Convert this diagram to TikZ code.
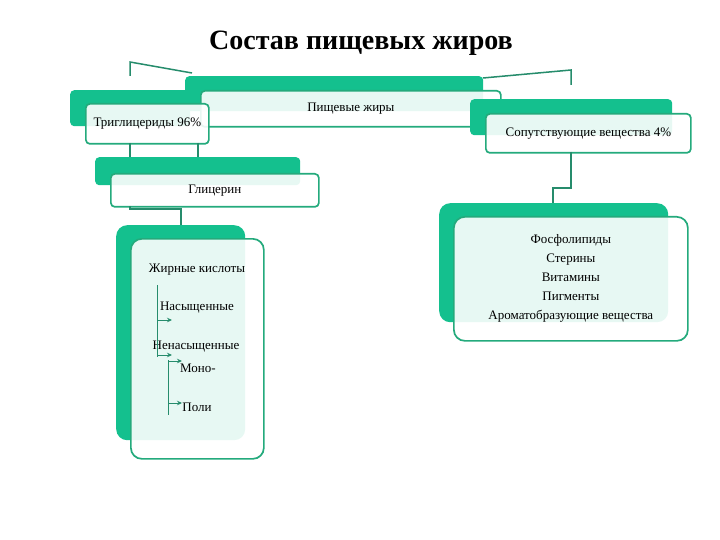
\documentclass[tikz,border=0pt]{standalone}
\usepackage{fontspec}
\setmainfont{Liberation Serif}
\usetikzlibrary{arrows.meta}
\definecolor{tealback}{RGB}{20,192,142}
\definecolor{tealbord}{RGB}{36,170,124}
\definecolor{tealconn}{RGB}{38,140,108}
\tikzset{
  backbox/.style={fill=tealback, draw=none, rounded corners=4pt, anchor=north west, inner sep=0pt},
  frontbox/.style={fill=white, fill opacity=0.9, text opacity=1, draw=tealbord, line width=1.7pt,
    rounded corners=4pt, anchor=north west, inner sep=0pt, align=center, font=\fontsize{13}{19}\selectfont},
  conn/.style={draw=tealconn, line width=1.5pt},
  tree/.style={draw=tealconn, line width=1pt},
  treearr/.style={draw=tealconn, line width=1pt, -{Stealth[length=5pt,width=4.5pt]}},
  lbl/.style={inner sep=0pt, font=\fontsize{13}{15}\selectfont},
}
\begin{document}
\begin{tikzpicture}[x=1pt,y=-1pt]
\useasboundingbox (0,0) rectangle (720,540);
% title
\node[font=\fontsize{28}{30}\selectfont\bfseries] (title) at (361,43) {Состав пищевых жиров};
% connectors from the top
\coordinate (l1) at (192,73);
\coordinate (l2) at (130,62);
\coordinate (l3) at (130,76);
\draw[conn] (l1) -- (l2) -- (l3);
\coordinate (r1) at (483,78);
\coordinate (r2) at (571,70);
\coordinate (r3) at (571,85);
\draw[conn] (r1) -- (r2) -- (r3);
% top box
\node[backbox, minimum width=298pt, minimum height=35pt] (topb) at (185,76) {};
\node[frontbox, minimum width=300pt, minimum height=36pt] (topf) at (200,90) {Пищевые жиры};
% triglycerides
\node[backbox, minimum width=120pt, minimum height=36pt] (trib) at (70,90) {};
\node[frontbox, minimum width=123pt, minimum height=40pt] (trif) at (85,103) {Триглицериды 96\%};
% accompanying substances
\node[backbox, minimum width=202pt, minimum height=36pt] (sopb) at (470,99) {};
\node[frontbox, minimum width=205pt, minimum height=39pt] (sopf) at (485,113) {Сопутствующие вещества 4\%};
% tri -> glycerin lines
\coordinate (t1) at (130,143);
\coordinate (t2) at (130,158);
\coordinate (t3) at (198,143);
\coordinate (t4) at (198,158);
\draw[conn] (t1) -- (t2);
\draw[conn] (t3) -- (t4);
% glycerin
\node[backbox, minimum width=205pt, minimum height=28pt] (glib) at (95,157) {};
\node[frontbox, minimum width=208pt, minimum height=33pt] (glif) at (110,173) {Глицерин};
% glycerin -> fatty acids
\coordinate (g1) at (130,206);
\coordinate (g2) at (130,209);
\coordinate (g3) at (181,209);
\coordinate (g4) at (181,225);
\draw[conn] (g1) -- (g2) -- (g3) -- (g4);
% accompanying -> list
\coordinate (s1) at (571,152);
\coordinate (s2) at (571,188);
\coordinate (s3) at (553,188);
\coordinate (s4) at (553,203);
\draw[conn] (s1) -- (s2) -- (s3) -- (s4);
% fatty acids box
\node[backbox, rounded corners=11pt, minimum width=129pt, minimum height=215pt] (fab) at (116,225) {};
\node[frontbox, rounded corners=11pt, minimum width=133pt, minimum height=220pt] (faf) at (130,238) {};
\node[lbl] (fa) at (197,270) {Жирные кислоты};
\node[lbl] (nas) at (197,308) {Насыщенные};
\node[lbl] (nenas) at (196,347) {Ненасыщенные};
\node[lbl] (mono) at (198,368) {Моно-};
\node[lbl] (poli) at (197,407) {Поли};
\coordinate (f1) at (157,285);
\coordinate (f2) at (157,357);
\coordinate (f3) at (157,320);
\coordinate (f4) at (172,320);
\coordinate (f5) at (157,355);
\coordinate (f6) at (172,355);
\draw[tree] (f1) -- (f2);
\draw[treearr] (f3) -- (f4);
\draw[treearr] (f5) -- (f6);
\coordinate (m1) at (168,360);
\coordinate (m2) at (168,415);
\coordinate (m3) at (168,361);
\coordinate (m4) at (182,361);
\coordinate (m5) at (168,403);
\coordinate (m6) at (182,403);
\draw[tree] (m1) -- (m2);
\draw[treearr] (m3) -- (m4);
\draw[treearr] (m5) -- (m6);
% list box
\node[backbox, rounded corners=11pt, minimum width=229pt, minimum height=119pt] (listb) at (439,203) {};
\node[frontbox, rounded corners=11pt, minimum width=234pt, minimum height=124pt] (listf) at (453,216)
  {Фосфолипиды\\Стерины\\Витамины\\Пигменты\\Ароматобразующие вещества};
\end{tikzpicture}
\end{document}
